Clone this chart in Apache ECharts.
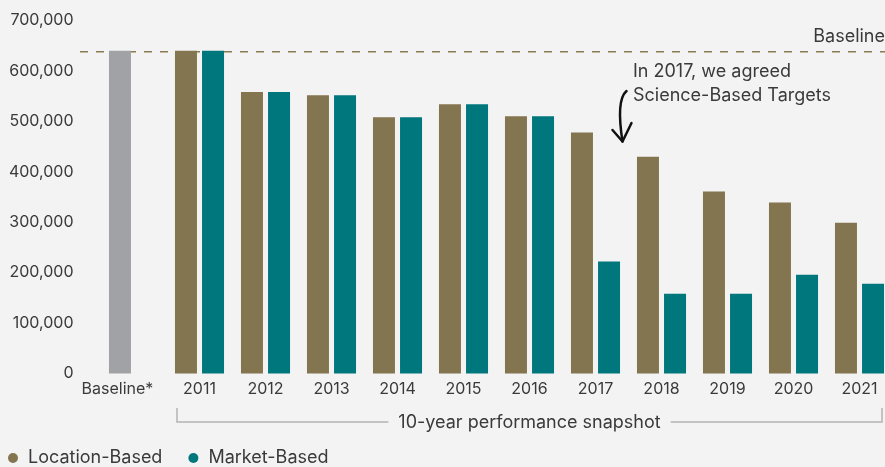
<!DOCTYPE html>
<html>
<head>
<meta charset="utf-8">
<style>
  html, body { margin: 0; padding: 0; background: #f3f3f3; }
  #chart { width: 885px; height: 467px; }
</style>
<script src="https://cdn.jsdelivr.net/npm/echarts@6/dist/echarts.min.js"></script>
</head>
<body>
<div id="chart"></div>
<script>
// Emissions by reporting year (tCO2e)
const categories = ['Baseline*', '2011', '2012', '2013', '2014', '2015', '2016', '2017', '2018', '2019', '2020', '2021'];
const baselineTotal = 640000;
const locationBased = [640000, 558000, 552000, 508000, 534000, 510000, 478000, 430000, 361000, 339000, 299000];
const marketBased   = [640000, 558000, 552000, 508000, 534000, 510000, 222000, 158000, 158000, 196000, 178000];
const yTicks = { min: 0, max: 700000, interval: 100000 };

const FONT = 'Inter, sans-serif';
const TEXT = '#3a3a3a';
const GOLD = '#83754f';
const TEAL = '#00767d';
const GREY = '#a1a2a5';
const BG = '#f3f3f3';

const chart = echarts.init(document.getElementById('chart'), null, { renderer: 'canvas' });

// Baseline bar sits in the Location-Based slot, drawn grey
const locData = [{ value: baselineTotal, itemStyle: { color: GREY } }].concat(locationBased);
const mktData = ['-'].concat(marketBased);

chart.setOption({
  backgroundColor: BG,
  animation: false,
  textStyle: { fontFamily: FONT },
  grid: { left: 100.5, width: 792, top: 20.5, height: 353, containLabel: false, outerBoundsMode: 'none' },
  xAxis: {
    type: 'category',
    data: categories,
    axisLine: { show: false },
    axisTick: { show: false },
    axisLabel: {
      color: TEXT, fontSize: 16, fontFamily: FONT, margin: 8, interval: 0,
      formatter: function (v, i) { return i === 0 ? '{base|' + v + '}' : v; },
      rich: { base: { fontSize: 16, fontFamily: FONT, color: TEXT, padding: [0, 32, 0, 0] } }
    }
  },
  yAxis: {
    type: 'value',
    min: yTicks.min, max: yTicks.max, interval: yTicks.interval,
    axisLine: { show: false },
    axisTick: { show: false },
    splitLine: { show: false },
    axisLabel: {
      color: TEXT, fontSize: 16, fontFamily: FONT, margin: 27,
      formatter: function (v) { return v.toLocaleString('en-US'); }
    }
  },
  legend: {
    left: 3, top: 444,
    icon: 'circle', itemWidth: 10, itemHeight: 10, itemGap: 26,
    textStyle: { color: TEXT, fontSize: 18, fontFamily: FONT, padding: [0, 0, 0, 5] },
    data: ['Location-Based', 'Market-Based']
  },
  series: [
    { name: 'Location-Based', type: 'bar', data: locData, barWidth: 22, barGap: '23%', itemStyle: { color: GOLD } },
    { name: 'Market-Based', type: 'bar', data: mktData, barWidth: 22, barGap: '23%', itemStyle: { color: TEAL } }
  ]
});

// Annotations positioned from the chart's own scales
function drawOverlay() {
  const yBase = chart.convertToPixel({ yAxisIndex: 0 }, baselineTotal);
  const x2011 = chart.convertToPixel({ xAxisIndex: 0 }, '2011');
  const x2021 = chart.convertToPixel({ xAxisIndex: 0 }, '2021');
  const x2017 = chart.convertToPixel({ xAxisIndex: 0 }, '2017');
  const y0 = chart.convertToPixel({ yAxisIndex: 0 }, 0);
  const W = chart.getWidth();

  const bl = x2011 - 22.5, br = x2021 + 22.5;
  const by = y0 + 48.5, bt = y0 + 34.5;

  const ax = x2017 + 31;  // arrow start
  chart.setOption({
    graphic: [
      { type: 'line', silent: true, shape: { x1: 80, y1: yBase + 1, x2: W, y2: yBase + 1 },
        style: { stroke: '#8a7b52', lineWidth: 1.5, lineDash: [8, 8] } },
      { type: 'text', silent: true, x: W, y: yBase - 14,
        style: { text: 'Baseline', fill: TEXT, font: '18px ' + FONT, align: 'right', verticalAlign: 'middle' } },
      { type: 'text', silent: true, x: x2017 + 37.5, y: 84,
        style: { text: 'In 2017, we agreed\nScience-Based Targets', fill: TEXT, font: '18px ' + FONT,
                 lineHeight: 24, align: 'left', verticalAlign: 'middle' } },
      { type: 'bezierCurve', silent: true,
        shape: { x1: ax, y1: 91, cpx1: ax - 7, cpy1: 97, cpx2: ax - 8, cpy2: 116, x2: ax - 4, y2: 141.5 },
        style: { stroke: '#111', lineWidth: 2.5, fill: null, lineCap: 'round' } },
      { type: 'polyline', silent: true,
        shape: { points: [[ax - 14, 130], [ax - 4, 141.5], [ax + 5, 123]] },
        style: { stroke: '#111', lineWidth: 2.5, fill: null, lineCap: 'round', lineJoin: 'round' } },
      { type: 'polyline', silent: true,
        shape: { points: [[bl, bt], [bl, by], [br, by], [br, bt]] },
        style: { stroke: '#b4b4b4', lineWidth: 1.5, fill: null } },
      { type: 'text', silent: true, x: (bl + br) / 2, y: by + 1,
        style: { text: '10-year performance snapshot', fill: TEXT, font: '18px ' + FONT,
                 align: 'center', verticalAlign: 'middle', backgroundColor: BG, padding: [0, 10] } }
    ]
  });
}
drawOverlay();
</script>
</body>
</html>
